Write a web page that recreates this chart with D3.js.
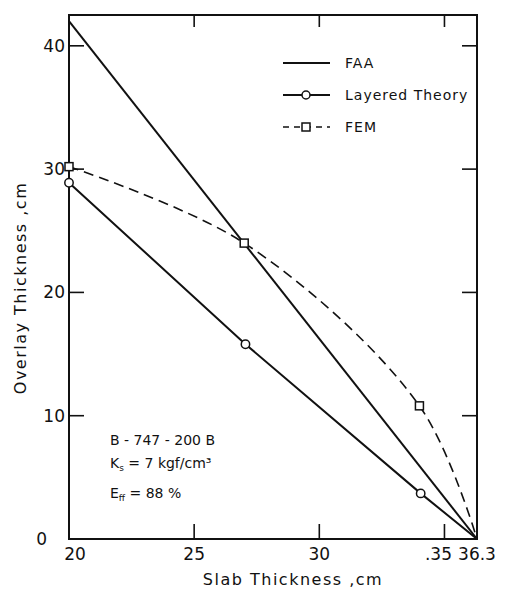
<!DOCTYPE html>
<html>
<head>
<meta charset="utf-8">
<script src="https://cdn.jsdelivr.net/npm/d3@7"></script>
<style>
  body { margin: 0; background: #fff; }
  text { font-family: "DejaVu Sans", sans-serif; fill: #111; }
</style>
</head>
<body>
<div id="chart"></div>
<script>
// chart values
const faaSlab = [20, 36.3];
const faaOverlay = [42, 0];

const layeredSlab = [20, 27.05, 34.05, 36.3];
const layeredOverlay = [28.9, 15.8, 3.7, 0];

const femSlab = [20, 27, 34, 36.3];
const femOverlay = [30.2, 24, 10.8, 0];

const xTicks = [25, 30, 35];
const xTickLabels = ["20", "25", "30", ".35", "36.3"];
const xLabelValues = [20, 25, 30, 35, 36.3];
const yTicks = [10, 20, 30, 40];
const yTickLabels = ["0", "10", "20", "30", "40"];
const yLabelValues = [0, 10, 20, 30, 40];

const legendNames = ["FAA", "Layered Theory", "FEM"];
const noteLines = ["B - 747 - 200 B", "Ks = 7 kgf/cm³", "Eff = 88 %"];

const width = 505;
const height = 597;
const margin = {left: 69, right: 28, top: 15, bottom: 58};

const svg = d3.select("#chart")
  .append("svg")
  .attr("width", width)
  .attr("height", height);

const x = d3.scaleLinear()
  .domain([20, 36.3])
  .range([margin.left, width - margin.right]);

const y = d3.scaleLinear()
  .domain([0, 42.5])
  .range([height - margin.bottom, margin.top]);

const x0 = x.range()[0], x1 = x.range()[1];
const y0 = y.range()[0], y1 = y.range()[1];

// frame
svg.append("rect")
  .attr("x", x0).attr("y", y1)
  .attr("width", x1 - x0).attr("height", y0 - y1)
  .attr("fill", "none").attr("stroke", "#111").attr("stroke-width", 2);

// inward ticks on all four sides
const tickG = svg.append("g").attr("stroke", "#111").attr("stroke-width", 1.6);
xTicks.forEach(t => {
  tickG.append("line").attr("x1", x(t)).attr("x2", x(t)).attr("y1", y0).attr("y2", y0 - 15);
  tickG.append("line").attr("x1", x(t)).attr("x2", x(t)).attr("y1", y1).attr("y2", y1 + 12);
});
yTicks.forEach(t => {
  tickG.append("line").attr("x1", x0).attr("x2", x0 + 15).attr("y1", y(t)).attr("y2", y(t));
  tickG.append("line").attr("x1", x1).attr("x2", x1 - 15).attr("y1", y(t)).attr("y2", y(t));
});

// tick labels
svg.selectAll(".xl")
  .data(xLabelValues)
  .enter().append("text")
  .attr("x", (d, i) => x(d) + (i === 0 ? 6 : i === 3 ? -6 : 0))
  .attr("y", y0 + 21)
  .attr("text-anchor", "middle")
  .style("font-size", "17px")
  .text((d, i) => xTickLabels[i]);

svg.selectAll(".yl")
  .data(yLabelValues)
  .enter().append("text")
  .attr("x", d => d === 0 ? x0 - 22 : x0 - 4)
  .attr("y", d => y(d) + 6)
  .attr("text-anchor", "end")
  .style("font-size", "17px")
  .text((d, i) => yTickLabels[i]);

// axis titles
svg.append("text")
  .attr("x", 293).attr("y", 585)
  .attr("text-anchor", "middle")
  .style("font-size", "16px")
  .style("letter-spacing", "1.5px")
  .text("Slab  Thickness ,cm");

svg.append("text")
  .attr("transform", "translate(26," + 288 + ") rotate(-90)")
  .attr("text-anchor", "middle")
  .style("font-size", "16px")
  .style("letter-spacing", "1.5px")
  .text("Overlay   Thickness ,cm");

// series
const line = d3.line().x(d => x(d[0])).y(d => y(d[1]));
const faaData = d3.zip(faaSlab, faaOverlay);
const layeredData = d3.zip(layeredSlab, layeredOverlay);
const femData = d3.zip(femSlab, femOverlay);

svg.append("path")
  .attr("d", line(faaData))
  .attr("fill", "none").attr("stroke", "#111").attr("stroke-width", 2);

svg.append("path")
  .attr("d", line(layeredData))
  .attr("fill", "none").attr("stroke", "#111").attr("stroke-width", 2);

svg.append("path")
  .attr("d", line.curve(d3.curveCatmullRom.alpha(0.5))(femData))
  .attr("fill", "none").attr("stroke", "#111").attr("stroke-width", 1.6)
  .attr("stroke-dasharray", "10,6");

// markers (last point of each sits on the corner, no marker drawn)
svg.selectAll(".circ")
  .data(layeredData.slice(0, 3))
  .enter().append("circle")
  .attr("cx", d => x(d[0])).attr("cy", d => y(d[1]))
  .attr("r", 4.2)
  .attr("fill", "#fff").attr("stroke", "#111").attr("stroke-width", 1.5);

svg.selectAll(".sq")
  .data(femData.slice(0, 3))
  .enter().append("rect")
  .attr("x", d => x(d[0]) - 4).attr("y", d => y(d[1]) - 4)
  .attr("width", 8).attr("height", 8)
  .attr("fill", "#fff").attr("stroke", "#111").attr("stroke-width", 1.5);

// legend
const legend = svg.append("g");
legendNames.forEach((name, i) => {
  const ly = 63 + i * 32;
  const l = legend.append("line")
    .attr("x1", 283).attr("x2", 330).attr("y1", ly).attr("y2", ly)
    .attr("stroke", "#111").attr("stroke-width", i === 2 ? 1.6 : 2);
  if (i === 2) l.attr("stroke-dasharray", "6,5");
  if (i === 1) {
    legend.append("circle").attr("cx", 306).attr("cy", ly).attr("r", 4)
      .attr("fill", "#fff").attr("stroke", "#111").attr("stroke-width", 1.5);
  }
  if (i === 2) {
    legend.append("rect").attr("x", 302).attr("y", ly - 4).attr("width", 8).attr("height", 8)
      .attr("fill", "#fff").attr("stroke", "#111").attr("stroke-width", 1.5);
  }
  legend.append("text")
    .attr("x", 345).attr("y", ly + 5)
    .style("font-size", "14px")
    .style("letter-spacing", "1px")
    .text(name);
});

// annotation block
const note = svg.append("g").style("font-size", "14px");
note.append("text").attr("x", 110).attr("y", 445).text(noteLines[0]);
const ks = note.append("text").attr("x", 110).attr("y", 468);
ks.append("tspan").text("K");
ks.append("tspan").attr("dy", 3).style("font-size", "9px").text("s");
ks.append("tspan").attr("dy", -3).text(" = 7 kgf/cm³");
const ef = note.append("text").attr("x", 110).attr("y", 498);
ef.append("tspan").text("E");
ef.append("tspan").attr("dy", 3).style("font-size", "9px").text("ff");
ef.append("tspan").attr("dy", -3).text(" = 88 %");
</script>
</body>
</html>
